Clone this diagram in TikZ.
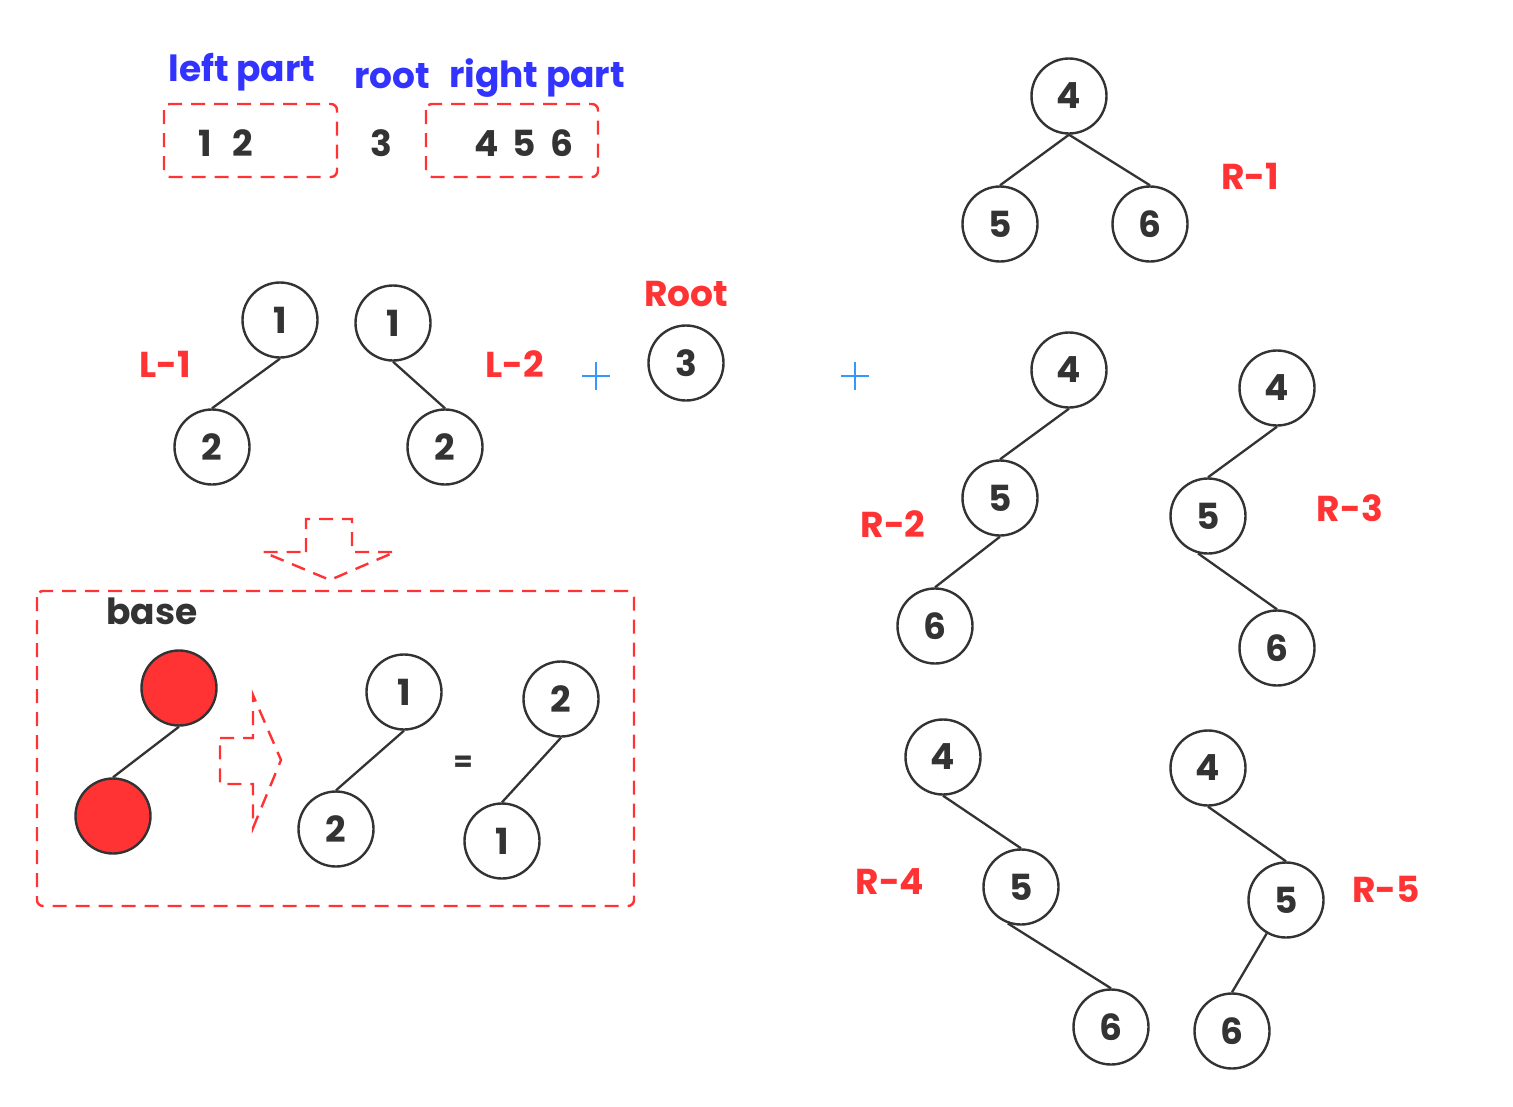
\documentclass[tikz,border=0pt]{standalone}
\usepackage{fontspec}
\setmainfont{Poppins}
\begin{document}
\begin{tikzpicture}[x=1pt,y=-1pt,
  nd/.style={circle,draw=dk,line width=2.4pt,minimum size=75pt,inner sep=0pt,
    font=\fontsize{36}{40}\selectfont\bfseries,text=dk},
  rednd/.style={nd,fill=rd},
  edge/.style={draw=dk,line width=2.3pt},
  lab/.style={font=\fontsize{36}{40}\selectfont\bfseries,text=rd},
  blu/.style={font=\fontsize{36}{40}\selectfont\bfseries,text=bl},
  plain/.style={font=\fontsize{36}{40}\selectfont\bfseries,text=dk},
  plus/.style={draw=pb,line width=2pt},
  dbox/.style={draw=rd,line width=2.4pt,dash pattern=on 14pt off 9pt,rounded corners=6pt},
  darrow/.style={draw=rd,line width=2.4pt,dash pattern=on 14pt off 9pt}
]
\definecolor{dk}{HTML}{333333}
\definecolor{rd}{HTML}{FF3333}
\definecolor{bl}{HTML}{3333FF}
\definecolor{pb}{HTML}{3399FF}
\useasboundingbox (0,0) rectangle (1513,1106);

% top part
\node[blu] (tlp) at (242,72) {left part};
\node[blu] (troot) at (392,76) {root};
\node[blu] (trp) at (537,78) {right part};
\draw[dbox] (164,104) rectangle (337,177);
\draw[dbox] (426,104) rectangle (598,177);
\node[plain] (t12) at (226,143) {1\hspace{20pt}2};
\node[plain] (t3) at (381,143) {3};
\node[plain] (t456) at (524,143) {4\hspace{14pt}5\hspace{14pt}6};

% L-1
\node[nd] (a1) at (280,320) {1};
\node[nd] (a2) at (212,447) {2};
\draw[edge] (a1.south) -- (a2.north);
\node[lab] (la1) at (165,364) {L-1};
% L-2
\node[nd] (b1) at (393,323) {1};
\node[nd] (b2) at (445,447) {2};
\draw[edge] (b1.south) -- (b2.north);
\node[lab] (lb2) at (515,364) {L-2};
\coordinate (p1) at (596,376);
\draw[plus] ([xshift=-14pt]p1) -- ([xshift=14pt]p1) ([yshift=-14pt]p1) -- ([yshift=14pt]p1);
\node[lab] (lroot) at (686,294) {Root};
\node[nd] (r3) at (686,363) {3};
\coordinate (p2) at (855,376);
\draw[plus] ([xshift=-14pt]p2) -- ([xshift=14pt]p2) ([yshift=-14pt]p2) -- ([yshift=14pt]p2);

% R-1
\node[nd] (c4) at (1069,96) {4};
\node[nd] (c5) at (1000,224) {5};
\node[nd] (c6) at (1150,224) {6};
\draw[edge] (c4.south) -- (c5.north);
\draw[edge] (c4.south) -- (c6.north);
\node[lab] (lr1) at (1250,176) {R-1};
% R-2
\node[nd] (d4) at (1069,370) {4};
\node[nd] (d5) at (1000,498) {5};
\node[nd] (d6) at (935,626) {6};
\draw[edge] (d4.south) -- (d5.north);
\draw[edge] (d5.south) -- (d6.north);
\node[lab] (lr2) at (893,524) {R-2};
% R-3
\node[nd] (e4) at (1277,388) {4};
\node[nd] (e5) at (1208,516) {5};
\node[nd] (e6) at (1277,648) {6};
\draw[edge] (e4.south) -- (e5.north);
\draw[edge] (e5.255) -- (e6.north);
\node[lab] (lr3) at (1350,508) {R-3};
% R-4
\node[nd] (f4) at (943,757) {4};
\node[nd] (f5) at (1021,887) {5};
\node[nd] (f6) at (1111,1027) {6};
\draw[edge] (f4.south) -- (f5.north);
\draw[edge] (f5.250) -- (f6.north);
\node[lab] (lr4) at (890,882) {R-4};
% R-5
\node[nd] (g4) at (1208,768) {4};
\node[nd] (g5) at (1286,900) {5};
\node[nd] (g6) at (1232,1031) {6};
\draw[edge] (g4.south) -- (g5.north);
\draw[edge] (g5.240) -- (g6.north);
\node[lab] (lr5) at (1386,889) {R-5};

% down arrow
\draw[darrow] (306,552) -- (306,519) -- (352,519) -- (352,552) -- (395,552)
  -- (330,580) -- (263,552) -- cycle;
% base box
\draw[dbox] (37,591) rectangle (634,906);
\node[plain] (lbase) at (152,611) {base};
\node[rednd] (h1) at (179,688) {};
\node[rednd] (h2) at (113,816) {};
\draw[edge] (h1.south) -- (h2.north);
% right arrow
\draw[darrow] (220,738) -- (253,738) -- (253,695) -- (281,760) -- (253,828)
  -- (253,784) -- (220,784) -- cycle;
\node[nd] (i1) at (404,692) {1};
\node[nd] (i2) at (336,829) {2};
\draw[edge] (i1.south) -- (i2.north);
\node[plain,font=\fontsize{28}{30}\selectfont\bfseries] (eq) at (463,764) {=};
\node[nd] (j2) at (561,699) {2};
\node[nd] (j1) at (502,841) {1};
\draw[edge] (j2.south) -- (j1.north);
\end{tikzpicture}
\end{document}
